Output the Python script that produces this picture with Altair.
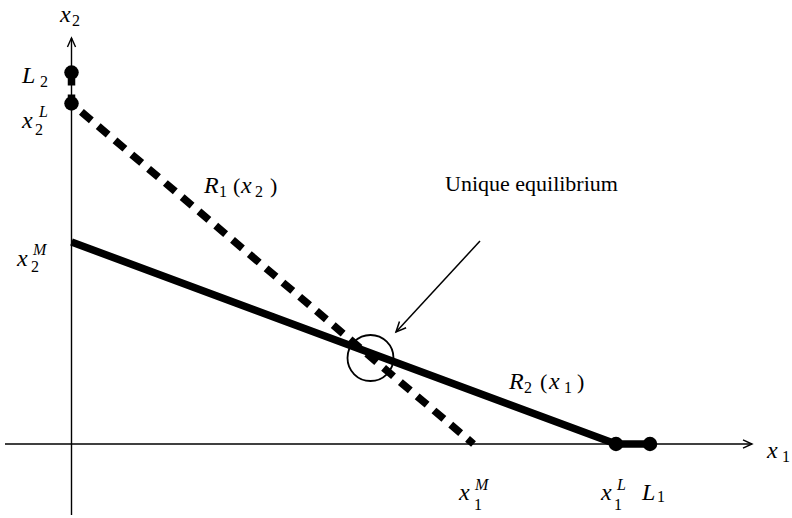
import altair as alt
import pandas as pd

# Intercepts of the reaction functions (x1 horizontal, x2 vertical)
L1, x1L, x1M = 578.5, 544.5, 402.0
L2, x2L, x2M = 371.5, 340.5, 202.0

# Equilibrium marker and the annotation arrow pointing at it
eq_x, eq_y = 299.0, 86.0
arrow_from = (408.5, 203.0)
arrow_to = (324.5, 112.0)

# Axis extents
x_axis_min, x_axis_max = -66.5, 680.5
y_axis_min, y_axis_max = -71.0, 406.0

X = alt.X("x:Q", scale=alt.Scale(domain=[-71.5, 720.5], nice=False, zero=False), axis=None)
Y = alt.Y("y:Q", scale=alt.Scale(domain=[-74, 444], nice=False, zero=False), axis=None)

FONT = "Liberation Serif"

# Axes
axes_df = pd.DataFrame({
    "x": [x_axis_min, x_axis_max, 0, 0],
    "y": [0, 0, y_axis_min, y_axis_max],
    "g": ["h", "h", "v", "v"],
})
axes = alt.Chart(axes_df).mark_line(color="black", strokeWidth=1.4).encode(
    x=X, y=Y, detail="g:N"
)

ARROW = "M-1,-0.45L0,0L-1,0.45"
x_head = alt.Chart(pd.DataFrame({"x": [x_axis_max], "y": [0]})).mark_point(
    shape=ARROW, size=324, filled=False, color="black", strokeWidth=1.4, angle=0, opacity=1
).encode(x=X, y=Y)
y_head = alt.Chart(pd.DataFrame({"x": [0], "y": [y_axis_max]})).mark_point(
    shape=ARROW, size=324, filled=False, color="black", strokeWidth=1.4, angle=270, opacity=1
).encode(x=X, y=Y)

# R1(x2): dashed best response of player 1
r1_df = pd.DataFrame({"x": [0, 0, x1M], "y": [L2, x2L, 0], "o": [0, 1, 2]})
r1 = alt.Chart(r1_df).mark_line(
    color="black", strokeWidth=7.5, strokeDash=[13, 9], strokeCap="butt"
).encode(x=X, y=Y, order="o:Q")

# R2(x1): solid best response of player 2
r2_df = pd.DataFrame({"x": [0, x1L, L1], "y": [x2M, 0, 0], "o": [0, 1, 2]})
r2 = alt.Chart(r2_df).mark_line(color="black", strokeWidth=7.5).encode(
    x=X, y=Y, order="o:Q"
)

# Endpoint dots
dots_df = pd.DataFrame({"x": [0, 0, x1L, L1], "y": [L2, x2L, 0, 0]})
dots = alt.Chart(dots_df).mark_point(
    shape="circle", filled=True, size=210, color="black", opacity=1
).encode(x=X, y=Y)

# Equilibrium circle
eq = alt.Chart(pd.DataFrame({"x": [eq_x], "y": [eq_y]})).mark_point(
    shape="circle", filled=False, size=2116, color="black", strokeWidth=1.8, opacity=1
).encode(x=X, y=Y)

# Annotation arrow
arrow_df = pd.DataFrame({"x": [arrow_from[0], arrow_to[0]], "y": [arrow_from[1], arrow_to[1]]})
arrow_line = alt.Chart(arrow_df).mark_line(color="black", strokeWidth=1.5).encode(x=X, y=Y)
arrow_head = alt.Chart(pd.DataFrame({"x": [arrow_to[0]], "y": [arrow_to[1]]})).mark_point(
    shape=ARROW, size=400, filled=False, color="black", strokeWidth=1.5, angle=132.7, opacity=1
).encode(x=X, y=Y)

# Math labels, split into italic symbols, upright text, subscripts and superscripts
italic_big = pd.DataFrame([
    ("x", -11.5, 422), ("L", -49.5, 361), ("x", -49.5, 316), ("x", -54.5, 178),
    ("R", 132.5, 251), ("x", 169.5, 251),
    ("R", 437.5, 55), ("x", 477.5, 55),
    ("x", 695.5, -14), ("x", 387.5, -56), ("x", 529.5, -56), ("L", 570.5, -56),
], columns=["t", "x", "y"])
upright_big = pd.DataFrame([
    ("(", 161.5, 251), (")", 198.5, 251),
    ("(", 468.5, 55), (")", 505.5, 55),
    ("Unique equilibrium", 373.5, 253),
], columns=["t", "x", "y"])
subs = pd.DataFrame([
    ("2", 0.5, 418), ("2", -31.5, 357), ("2", -36.5, 309), ("2", -40.5, 172),
    ("1", 147.5, 247), ("2", 183.5, 247),
    ("2", 452.5, 51), ("1", 492.5, 51),
    ("1", 710.5, -18), ("1", 402.5, -66), ("1", 542.5, -66), ("1", 585.5, -58),
], columns=["t", "x", "y"])
sups = pd.DataFrame([
    ("L", -32.5, 327), ("M", -38.5, 189), ("M", 403.5, -46), ("L", 545.5, -46),
], columns=["t", "x", "y"])


def text_layer(df, size, italic):
    kw = dict(align="left", baseline="alphabetic", font=FONT, fontSize=size, color="black")
    if italic:
        kw["fontStyle"] = "italic"
    return alt.Chart(df).mark_text(**kw).encode(x=X, y=Y, text="t:N")


labels = (
    text_layer(italic_big, 24, True)
    + text_layer(upright_big, 22, False)
    + text_layer(subs, 16, False)
    + text_layer(sups, 16, True)
)

chart = alt.layer(
    axes, x_head, y_head, r1, r2, dots, eq, arrow_line, arrow_head, labels
).properties(
    width=792, height=518, autosize=alt.AutoSizeParams(type="none"), padding=0
).configure_view(stroke=None)

chart.save("out.html", embed_options={"renderer": "svg", "actions": False})
